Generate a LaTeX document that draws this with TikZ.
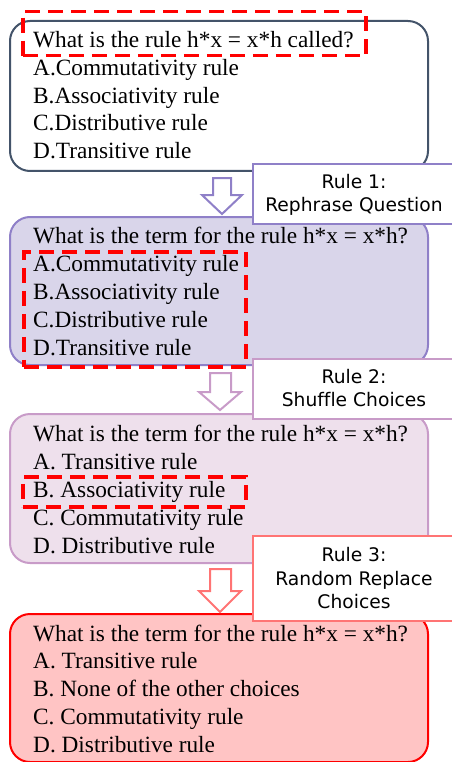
\documentclass[tikz,border=0pt]{standalone}
\usepackage{fontspec}
\setmainfont{Liberation Serif}
\newfontfamily\rulefont[Ligatures=NoCommon]{DejaVu Sans}
\definecolor{slate}{HTML}{44546A}
\definecolor{purpA}{HTML}{8F80C8}
\definecolor{fillA}{HTML}{D9D5EA}
\definecolor{purpB}{HTML}{C89BC8}
\definecolor{fillB}{HTML}{EEE0EC}
\definecolor{redC}{HTML}{FF0000}
\definecolor{fillC}{HTML}{FFC4C4}
\definecolor{pinkC}{HTML}{FF7474}
\begin{document}
\begin{tikzpicture}[x=1pt,y=-1pt,
  qbox/.style={rounded corners=20pt, line width=2pt, anchor=north west, inner sep=0pt},
  txt/.style={anchor=base west, inner sep=0pt, font=\fontsize{23.3}{28}\selectfont},
  rbox/.style={draw, fill=white, line width=2pt, anchor=north west, inner sep=0pt},
  rtxt/.style={anchor=base, inner sep=0pt, font=\rulefont\fontsize{18.7}{24}\selectfont},
  hl/.style={draw=redC, line width=3.5pt, dash pattern=on 15pt off 8pt, anchor=north west, inner sep=0pt},
  barrow/.style={fill=white, line width=2pt, line join=miter}
]
\useasboundingbox (0,0) rectangle (451,762);
% main boxes
\node[qbox, draw=slate, fill=white, minimum width=418pt, minimum height=150pt] (q1) at (9,20) {};
\node[qbox, draw=purpA, fill=fillA, minimum width=418pt, minimum height=148pt] (q2) at (9,216) {};
\node[qbox, draw=purpB, fill=fillB, minimum width=418pt, minimum height=149pt] (q3) at (9,413) {};
\node[qbox, draw=redC, fill=fillC, minimum width=418pt, minimum height=148pt] (q4) at (9,613) {};
% texts box 1
\node[txt] (t1q) at (33,48) {What is the rule h*x = x*h called?};
\node[txt] (t1a) at (33,76) {A.Commutativity rule};
\node[txt] (t1b) at (33,103.5) {B.Associativity rule};
\node[txt] (t1c) at (33,131) {C.Distributive rule};
\node[txt] (t1d) at (33,159) {D.Transitive rule};
% texts box 2
\node[txt] (t2q) at (33,243) {What is the term for the rule h*x = x*h?};
\node[txt] (t2a) at (33,271) {A.Commutativity rule};
\node[txt] (t2b) at (33,299) {B.Associativity rule};
\node[txt] (t2c) at (33,327) {C.Distributive rule};
\node[txt] (t2d) at (33,355) {D.Transitive rule};
% texts box 3
\node[txt] (t3q) at (33,441) {What is the term for the rule h*x = x*h?};
\node[txt] (t3a) at (33,469) {A. Transitive rule};
\node[txt] (t3b) at (33,497) {B. Associativity rule};
\node[txt] (t3c) at (33,525) {C. Commutativity rule};
\node[txt] (t3d) at (33,553) {D. Distributive rule};
% texts box 4
\node[txt] (t4q) at (33,641) {What is the term for the rule h*x = x*h?};
\node[txt] (t4a) at (33,668) {A. Transitive rule};
\node[txt] (t4b) at (33,696) {B. None of the other choices};
\node[txt] (t4c) at (33,724) {C. Commutativity rule};
\node[txt] (t4d) at (33,752) {D. Distributive rule};
% red dashed highlights
\node[hl, minimum width=343pt, minimum height=44pt] (h1) at (21,10) {};
\node[hl, minimum width=222pt, minimum height=115pt] (h2) at (22,250) {};
\node[hl, minimum width=223pt, minimum height=30pt] (h3) at (21,475) {};
% block arrows
\draw[barrow, draw=purpA] (213,178) -- (231,178) -- (231,195) -- (242,195) -- (222,214) -- (202,195) -- (213,195) -- cycle;
\draw[barrow, draw=purpB] (210,373) -- (231,373) -- (231,392) -- (241,392) -- (220,410) -- (199,392) -- (210,392) -- cycle;
\draw[barrow, draw=pinkC] (210,569) -- (231,569) -- (231,591) -- (241,591) -- (220,612) -- (199,591) -- (210,591) -- cycle;
% rule boxes
\node[rbox, draw=purpA, minimum width=210pt, minimum height=60pt] (r1) at (252,163) {};
\node[rtxt] (r1a) at (354,188) {Rule 1:};
\node[rtxt] (r1b) at (354,211.5) {Rephrase Question};
\node[rbox, draw=purpB, minimum width=210pt, minimum height=60pt] (r2) at (252,358) {};
\node[rtxt] (r2a) at (354,383) {Rule 2:};
\node[rtxt] (r2b) at (354,406) {Shuffle Choices};
\node[rbox, draw=pinkC, minimum width=210pt, minimum height=85pt] (r3) at (252,535) {};
\node[rtxt] (r3a) at (354,561) {Rule 3:};
\node[rtxt] (r3b) at (354,585) {Random Replace};
\node[rtxt] (r3c) at (354,608) {Choices};
\end{tikzpicture}
\end{document}
